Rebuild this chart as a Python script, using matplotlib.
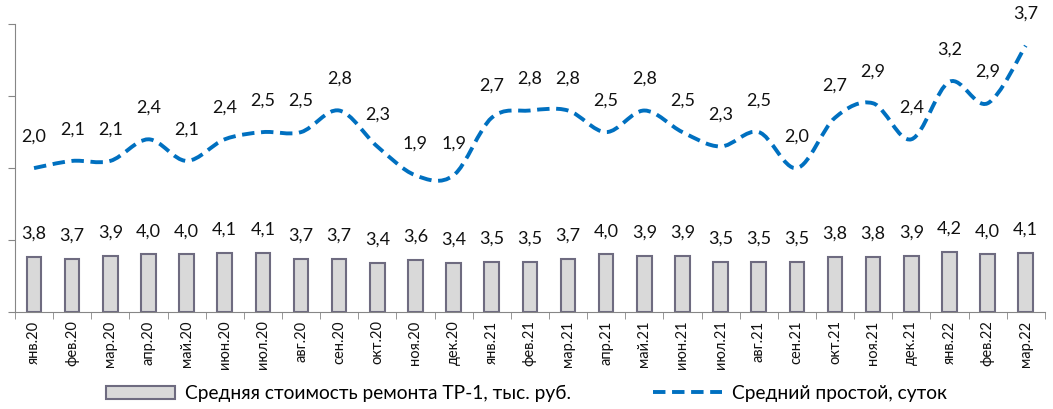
import numpy as np
import matplotlib
matplotlib.use("Agg")
import matplotlib.pyplot as plt
from matplotlib.path import Path
from matplotlib.patches import PathPatch, Patch
from matplotlib.lines import Line2D

plt.rcParams['font.family'] = ['Lato', 'DejaVu Sans']

months = ['янв.20', 'фев.20', 'мар.20', 'апр.20', 'май.20', 'июн.20', 'июл.20',
          'авг.20', 'сен.20', 'окт.20', 'ноя.20', 'дек.20', 'янв.21', 'фев.21',
          'мар.21', 'апр.21', 'май.21', 'июн.21', 'июл.21', 'авг.21', 'сен.21',
          'окт.21', 'ноя.21', 'дек.21', 'янв.22', 'фев.22', 'мар.22']
repair_cost = [3.8, 3.7, 3.9, 4.0, 4.0, 4.1, 4.1, 3.7, 3.7, 3.4, 3.6, 3.4, 3.5, 3.5,
               3.7, 4.0, 3.9, 3.9, 3.5, 3.5, 3.5, 3.8, 3.8, 3.9, 4.2, 4.0, 4.1]
idle_days = [2.0, 2.1, 2.1, 2.4, 2.1, 2.4, 2.5, 2.5, 2.8, 2.3, 1.9, 1.9, 2.7, 2.8,
             2.8, 2.5, 2.8, 2.5, 2.3, 2.5, 2.0, 2.7, 2.9, 2.4, 3.2, 2.9, 3.7]

bar_label = 'Средняя стоимость ремонта ТР-1, тыс. руб.'
line_label = 'Средний простой, суток'

blue = '#0070c0'
grey = '#868686'


def fmt(v):
    return '{:.1f}'.format(v).replace('.', ',')


def smooth_path(x, y):
    # catmull-rom style bezier, like excel's smoothed line
    pts = np.column_stack([x, y]).astype(float)
    n = len(pts)
    verts = [pts[0]]
    codes = [Path.MOVETO]
    for i in range(n - 1):
        p0 = pts[max(i - 1, 0)]
        p1 = pts[i]
        p2 = pts[i + 1]
        p3 = pts[min(i + 2, n - 1)]
        c1 = p1 + (p2 - p0) / 6.0
        c2 = p2 - (p3 - p1) / 6.0
        verts += [c1, c2, p2]
        codes += [Path.CURVE4] * 3
    return Path(verts, codes)


fig = plt.figure(figsize=(10.53, 4.09), dpi=100)
ax = fig.add_axes([0.0142, 0.237, 0.978, 0.704])
x = np.arange(len(months))

bars = ax.bar(x, repair_cost, width=0.38, color='#d9d9d9', edgecolor='#6e6b80',
              linewidth=1.5, zorder=2)
ax.bar_label(bars, labels=[fmt(v) for v in repair_cost], padding=11,
             fontsize=13, color='#111111')
ax.set_ylim(0, 20)
ax.set_yticks([0, 5, 10, 15, 20])
ax.set_yticklabels([])
ax.set_xlim(-0.5, len(months) - 0.5)
ax.set_xticks(x)
ax.set_xticklabels(months, rotation=90, fontsize=10.5)
ax.set_xticks(np.arange(-0.5, len(months)), minor=True)
ax.tick_params(axis='x', which='major', length=0, pad=6, colors='#111111')
ax.tick_params(axis='x', which='minor', length=5, color=grey)
ax.tick_params(axis='y', length=5, color=grey, direction='out')
for s in ['top', 'right']:
    ax.spines[s].set_visible(False)
ax.spines['left'].set_color(grey)
ax.spines['bottom'].set_color(grey)

ax2 = ax.twinx()
ax2.set_ylim(0, 4)
ax2.axis('off')
ax2.add_patch(PathPatch(smooth_path(x, idle_days), fill=False, edgecolor=blue,
                        linewidth=2.8, linestyle=(0, (3.2, 1.7)), capstyle='butt',
                        zorder=3))
for xi, v in zip(x, idle_days):
    ax2.annotate(fmt(v), (xi, v), xytext=(0, 17), textcoords='offset points',
                 ha='center', va='bottom', fontsize=13, color='#111111',
                 annotation_clip=False)

handles = [Patch(facecolor='#d9d9d9', edgecolor='#6e6b80', linewidth=1.5),
           Line2D([], [], color=blue, linewidth=2.8, linestyle=(0, (3.2, 1.7)))]
fig.legend(handles, [bar_label, line_label], loc='lower center',
           bbox_to_anchor=(0.5, -0.025), ncol=2, frameon=False, fontsize=13.8,
           handlelength=3.6, handleheight=0.65, handletextpad=0.5,
           columnspacing=4.3)

fig.savefig('out.png', dpi=100)
